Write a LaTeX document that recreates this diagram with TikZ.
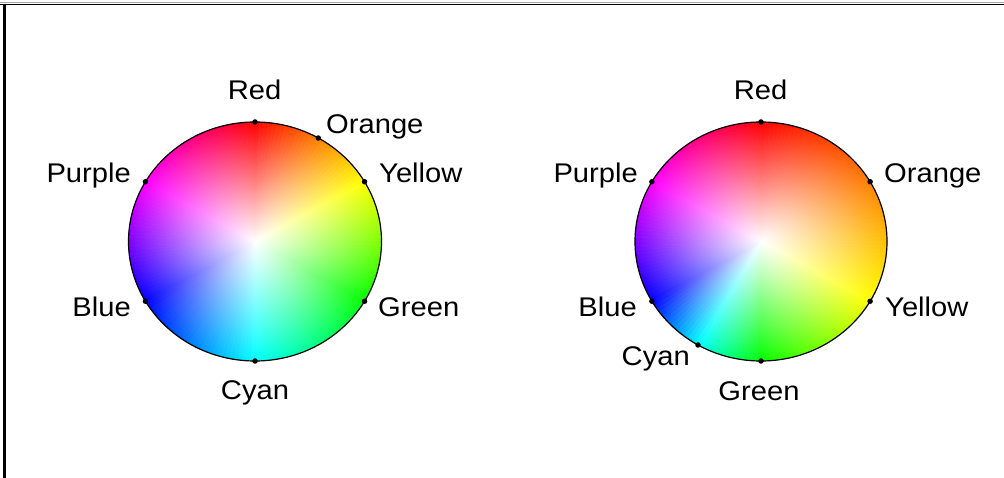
\documentclass[tikz,border=0pt]{standalone}
\usepackage{fontspec}
\setmainfont{Liberation Sans}[FakeStretch=1.08]
\usetikzlibrary{fadings}

\definecolor{hred}{rgb}{1,0,0}
\definecolor{horange}{rgb}{1,0.5,0}
\definecolor{hyellow}{rgb}{1,1,0}
\definecolor{hgreen}{rgb}{0,1,0}
\definecolor{hcyan}{rgb}{0,1,1}
\definecolor{hblue}{rgb}{0,0,1}
\definecolor{hmagenta}{rgb}{1,0,1}

\tikzfading[name=wheelfade, inner color=transparent!0, outer color=transparent!100]

\begin{document}
\begin{tikzpicture}[x=1pt, y=1pt,
  lbl/.style={font=\fontsize{27}{32}\selectfont, inner sep=0pt},
  dot/.style={circle, fill=black, inner sep=0pt, minimum size=5.5pt},
  rim/.style={draw=black, line width=1.2pt},
]
\useasboundingbox (0,0) rectangle (1004,478);

% frame, top and left only
\draw[gray!70, line width=1pt] (0,475.6) -- (1004,475.6);
\draw[line width=1.6pt] (0,473.6) -- (1004,473.6);
\draw[line width=2.6pt] (4.5,474.4) -- (4.5,0);

\coordinate (lc) at (255,236.5);
\coordinate (rc) at (761,236.5);

% left wheel: RGB hue circle
\begin{scope}
  \clip (lc) ellipse[x radius=126.5pt, y radius=119.5pt];
  \foreach \a/\b/\ca/\cb in {90/30/hred/hyellow, 30/-30/hyellow/hgreen, -30/-90/hgreen/hcyan,
      -90/-150/hcyan/hblue, -150/-210/hblue/hmagenta, -210/-270/hmagenta/hred}{
    \pgfmathtruncatemacro{\n}{abs(\b-\a)/2}
    \foreach \k in {1,...,\n}{
      \pgfmathsetmacro{\s}{\a+(\b-\a)*(\k-1)/\n}
      \pgfmathsetmacro{\e}{\a+(\b-\a)*\k/\n}
      \pgfmathtruncatemacro{\p}{100*(\k-0.5)/\n}
      \colorlet{wedge}{\cb!\p!\ca}
      \fill[wedge, draw=wedge, line width=0.6pt] (lc) -- +(\s:140 and 132.2) -- +(\e:140 and 132.2) -- cycle;
    }
  }
  \fill[white, path fading=wheelfade] (lc) ellipse[x radius=126.5pt, y radius=119.5pt];
\end{scope}
\draw[rim] (lc) ellipse[x radius=126.5pt, y radius=119.5pt];

% right wheel: painter's circle
\begin{scope}
  \clip (rc) ellipse[x radius=126pt, y radius=119.5pt];
  \foreach \a/\b/\ca/\cb in {90/30/hred/horange, 30/-30/horange/hyellow, -30/-90/hyellow/hgreen,
      -90/-120/hgreen/hcyan, -120/-150/hcyan/hblue, -150/-210/hblue/hmagenta, -210/-270/hmagenta/hred}{
    \pgfmathtruncatemacro{\n}{abs(\b-\a)/2}
    \foreach \k in {1,...,\n}{
      \pgfmathsetmacro{\s}{\a+(\b-\a)*(\k-1)/\n}
      \pgfmathsetmacro{\e}{\a+(\b-\a)*\k/\n}
      \pgfmathtruncatemacro{\p}{100*(\k-0.5)/\n}
      \colorlet{wedge}{\cb!\p!\ca}
      \fill[wedge, draw=wedge, line width=0.6pt] (rc) -- +(\s:140 and 132.8) -- +(\e:140 and 132.8) -- cycle;
    }
  }
  \fill[white, path fading=wheelfade] (rc) ellipse[x radius=126pt, y radius=119.5pt];
\end{scope}
\draw[rim] (rc) ellipse[x radius=126pt, y radius=119.5pt];

% dots on the left rim
\node[dot] (ldred)    at ([shift={(90:126.5 and 119.5)}]lc) {};
\node[dot] (ldorange) at ([shift={(60:126.5 and 119.5)}]lc) {};
\node[dot] (ldyellow) at ([shift={(30:126.5 and 119.5)}]lc) {};
\node[dot] (ldgreen)  at ([shift={(-30:126.5 and 119.5)}]lc) {};
\node[dot] (ldcyan)   at ([shift={(-90:126.5 and 119.5)}]lc) {};
\node[dot] (ldblue)   at ([shift={(-150:126.5 and 119.5)}]lc) {};
\node[dot] (ldpurple) at ([shift={(150:126.5 and 119.5)}]lc) {};

% dots on the right rim
\node[dot] (rdred)    at ([shift={(90:126 and 119.5)}]rc) {};
\node[dot] (rdorange) at ([shift={(30:126 and 119.5)}]rc) {};
\node[dot] (rdyellow) at ([shift={(-30:126 and 119.5)}]rc) {};
\node[dot] (rdgreen)  at ([shift={(-90:126 and 119.5)}]rc) {};
\node[dot] (rdcyan)   at ([shift={(-120:126 and 119.5)}]rc) {};
\node[dot] (rdblue)   at ([shift={(-150:126 and 119.5)}]rc) {};
\node[dot] (rdpurple) at ([shift={(150:126 and 119.5)}]rc) {};

% left labels
\node[lbl, anchor=base]      (ltred)    at (254.5,378) {Red};
\node[lbl, anchor=base west] (ltorange) at (326,344) {Orange};
\node[lbl, anchor=base west] (ltyellow) at (379,295) {Yellow};
\node[lbl, anchor=base east] (ltpurple) at (131,295) {Purple};
\node[lbl, anchor=base east] (ltblue)   at (131,161) {Blue};
\node[lbl, anchor=base west] (ltgreen)  at (378,161) {Green};
\node[lbl, anchor=base]      (ltcyan)   at (255,78) {Cyan};

% right labels
\node[lbl, anchor=base]      (rtred)    at (760.5,378) {Red};
\node[lbl, anchor=base west] (rtorange) at (884,295) {Orange};
\node[lbl, anchor=base east] (rtpurple) at (638,295) {Purple};
\node[lbl, anchor=base east] (rtblue)   at (637,161) {Blue};
\node[lbl, anchor=base west] (rtyellow) at (885,161) {Yellow};
\node[lbl, anchor=base east] (rtcyan)   at (690,112) {Cyan};
\node[lbl, anchor=base]      (rtgreen)  at (759,77) {Green};
\end{tikzpicture}
\end{document}
